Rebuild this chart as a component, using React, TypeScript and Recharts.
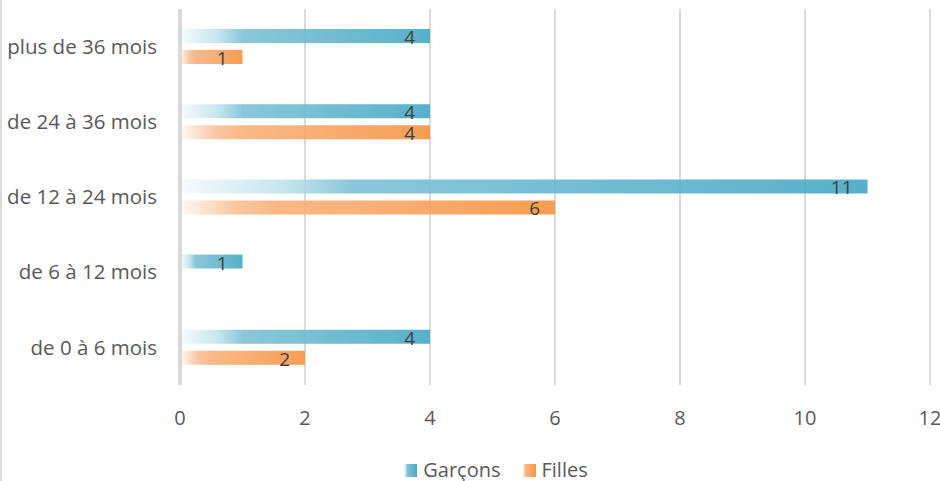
import React from "react";
import { BarChart, Bar, XAxis, YAxis, CartesianGrid, LabelList } from "recharts";

const categories = ["plus de 36 mois", "de 24 à 36 mois", "de 12 à 24 mois", "de 6 à 12 mois", "de 0 à 6 mois"];
const garcons = [4, 4, 11, 1, 4];
const filles: (number | null)[] = [1, 4, 6, null, 2];
const xTicks = [0, 2, 4, 6, 8, 10, 12];

const data = categories.map((c, i) => ({ name: c, garcons: garcons[i], filles: filles[i] }));

const FONT = "'Open Sans', 'Noto Sans', sans-serif";

const ValueLabel = (props: any) => {
  const { x, y, width, height, value } = props;
  if (value === null || value === undefined) return null;
  return (
    <text
      x={x + width - 15}
      y={y + height / 2 + 1}
      textAnchor="end"
      dominantBaseline="central"
      fontFamily={FONT}
      fontSize={19}
      fill="#404040"
    >
      {value}
    </text>
  );
};

const LegendIcon = ({ id, stops }: { id: string; stops: [string, string][] }) => (
  <svg width={13} height={13} style={{ display: "block" }}>
    <defs>
      <linearGradient id={id} x1="0" y1="0" x2="1" y2="0">
        {stops.map(([o, c], i) => (
          <stop key={i} offset={o} stopColor={c} />
        ))}
      </linearGradient>
    </defs>
    <rect x={0} y={0} width={13} height={13} fill={`url(#${id})`} />
  </svg>
);

const blueStops: [string, string][] = [
  ["0%", "#f6fbfd"],
  ["15%", "#c3e4ed"],
  ["25%", "#82c3d6"],
  ["100%", "#4aabc6"],
];
const orangeStops: [string, string][] = [
  ["0%", "#fff9f4"],
  ["15%", "#fac198"],
  ["25%", "#f9b47f"],
  ["100%", "#f79646"],
];

export default function App() {
  return (
    <div
      style={{
        position: "absolute",
        left: 0,
        top: 0,
        width: 940,
        height: 481,
        background: "#ffffff",
        overflow: "hidden",
      }}
    >
      <div style={{ position: "absolute", left: 0, top: 0, width: 2, height: 481, background: "#d9d9d9" }} />
      <BarChart
        width={940}
        height={481}
        data={data}
        layout="vertical"
        margin={{ top: 9, right: 10, bottom: 56, left: 8 }}
        barSize={14}
        barGap={7}
      >
        <defs>
          <linearGradient id="gBlue" x1="0" y1="0" x2="1" y2="0">
            {blueStops.map(([o, c], i) => (
              <stop key={i} offset={o} stopColor={c} />
            ))}
          </linearGradient>
          <linearGradient id="gOrange" x1="0" y1="0" x2="1" y2="0">
            {orangeStops.map(([o, c], i) => (
              <stop key={i} offset={o} stopColor={c} />
            ))}
          </linearGradient>
        </defs>
        <CartesianGrid horizontal={false} stroke="#d9d9d9" strokeWidth={2} />
        <XAxis
          type="number"
          domain={[0, 12]}
          ticks={xTicks}
          axisLine={false}
          tickLine={false}
          tickSize={0}
          tickMargin={26}
          height={40}
          tick={{ fontFamily: FONT, fontSize: 20, fill: "#595959" }}
        />
        <YAxis
          type="category"
          dataKey="name"
          width={172}
          axisLine={{ stroke: "#d9d9d9", strokeWidth: 4 }}
          tickLine={false}
          tickSize={0}
          tickMargin={23}
          tick={{ fontFamily: FONT, fontSize: 20.5, fill: "#595959" }}
        />
        <Bar dataKey="garcons" fill="url(#gBlue)" fillOpacity={0.93} isAnimationActive={false}>
          <LabelList dataKey="garcons" content={ValueLabel} />
        </Bar>
        <Bar dataKey="filles" fill="url(#gOrange)" fillOpacity={0.93} isAnimationActive={false}>
          <LabelList dataKey="filles" content={ValueLabel} />
        </Bar>
      </BarChart>
      <div
        style={{
          position: "absolute",
          left: 0,
          top: 459,
          width: 940,
          height: 22,
          display: "flex",
          justifyContent: "center",
          alignItems: "center",
          fontFamily: FONT,
          fontSize: 20,
          lineHeight: "22px",
          color: "#595959",
        }}
      >
        <div style={{ display: "flex", alignItems: "center", marginLeft: 52 }}>
          <LegendIcon id="lgBlue" stops={blueStops} />
          <span style={{ marginLeft: 6 }}>Garçons</span>
        </div>
        <div style={{ display: "flex", alignItems: "center", marginLeft: 22 }}>
          <LegendIcon id="lgOrange" stops={orangeStops} />
          <span style={{ marginLeft: 6 }}>Filles</span>
        </div>
      </div>
    </div>
  );
}
